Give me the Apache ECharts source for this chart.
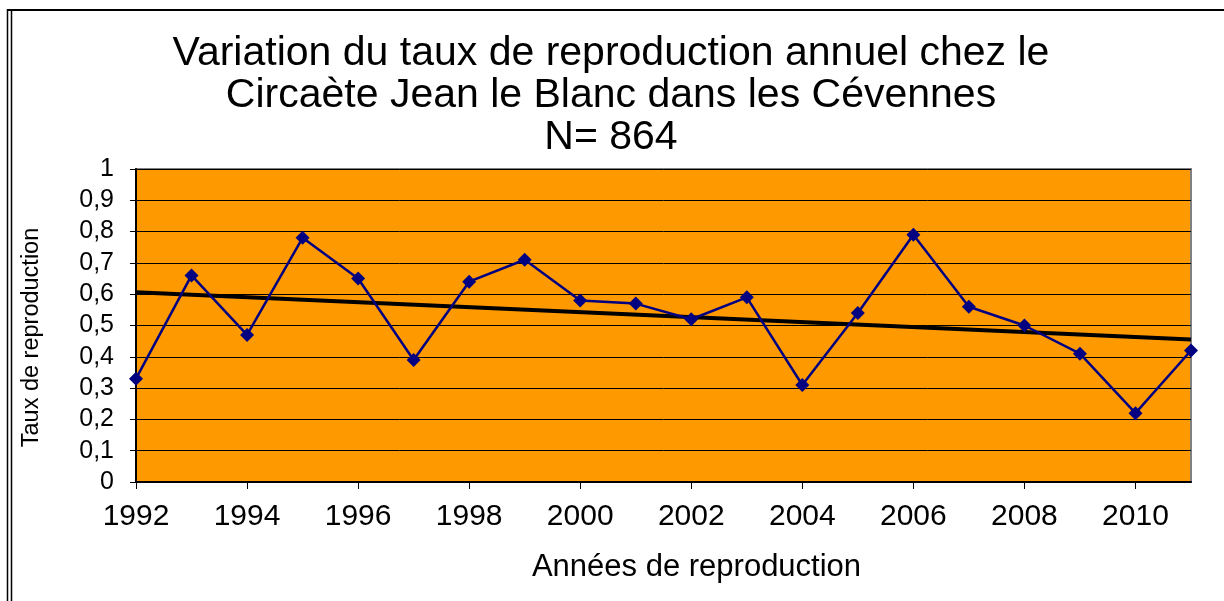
<!DOCTYPE html>
<html>
<head>
<meta charset="utf-8">
<script src="https://cdn.jsdelivr.net/npm/echarts@6/dist/echarts.min.js"></script>
<style>
	html, body { margin: 0; padding: 0; background: #fff; }
	#chart { width: 1224px; height: 601px; }
</style>
</head>
<body>
<div id="chart"></div>
<script>
	var years = ['1992', '1993', '1994', '1995', '1996', '1997', '1998', '1999', '2000', '2001',
		'2002', '2003', '2004', '2005', '2006', '2007', '2008', '2009', '2010', '2011'];
	var tauxRepro = [0.33, 0.66, 0.47, 0.78, 0.65, 0.39, 0.64, 0.71, 0.58, 0.57,
		0.52, 0.59, 0.31, 0.54, 0.79, 0.56, 0.50, 0.41, 0.22, 0.42];
	// linear trend, end points
	var trendYears = ['1992', '2011'];
	var trendValues = [0.606, 0.455];

	var trendData = trendYears.map(function (y, i) { return [y, trendValues[i]]; });

	var chart = echarts.init(document.getElementById('chart'));

	var option = {
		backgroundColor: '#ffffff',
		animation: false,
		textStyle: { fontFamily: 'Liberation Sans, Arial, sans-serif' },
		title: {
			text: 'Variation du taux de reproduction annuel chez le\nCircaète Jean le Blanc dans les Cévennes\nN= 864',
			left: 606,
			top: 28,
			textAlign: 'center',
			textStyle: {
				fontSize: 41,
				fontWeight: 'normal',
				color: '#000',
				lineHeight: 42
			}
		},
		graphic: [
			{ type: 'line', shape: { x1: 7.5, y1: 9, x2: 7.5, y2: 601 }, style: { stroke: '#000', lineWidth: 1.5 } },
			{ type: 'line', shape: { x1: 11.5, y1: 11, x2: 11.5, y2: 601 }, style: { stroke: '#000', lineWidth: 1.5 } },
			{ type: 'line', shape: { x1: 7, y1: 10, x2: 1224, y2: 10 }, style: { stroke: '#000', lineWidth: 2 } }
		],
		grid: {
			left: 136,
			right: 33,
			top: 169,
			bottom: 119,
			show: true,
			backgroundColor: '#ff9900',
			borderColor: '#808080',
			borderWidth: 2
		},
		xAxis: {
			type: 'category',
			data: years,
			boundaryGap: false,
			name: 'Années de reproduction',
			nameLocation: 'middle',
			nameGap: 70,
			nameTextStyle: { fontSize: 31, color: '#000', padding: [0, 0, 0, 66] },
			axisLine: { lineStyle: { color: '#000', width: 2 } },
			axisTick: { interval: 1, length: 7, lineStyle: { color: '#000' } },
			axisLabel: { interval: 1, fontSize: 30, color: '#000', margin: 20 },
			splitLine: { show: false }
		},
		yAxis: {
			type: 'value',
			min: 0,
			max: 1,
			interval: 0.1,
			name: 'Taux de reproduction',
			nameLocation: 'middle',
			nameGap: 92,
			nameTextStyle: { fontSize: 23.5, color: '#000', padding: [0, 24, 0, 0] },
			axisLine: { show: true, lineStyle: { color: '#000', width: 2 } },
			axisTick: { show: true, length: 6, lineStyle: { color: '#000' } },
			axisLabel: {
				fontSize: 25,
				color: '#000',
				margin: 22,
				formatter: function (v) { return String(Math.round(v * 10) / 10).replace('.', ','); }
			},
			splitLine: { lineStyle: { color: '#000', width: 1 } }
		},
		series: [
			{
				name: 'Taux',
				type: 'line',
				data: tauxRepro,
				symbol: 'diamond',
				symbolSize: 14,
				itemStyle: { color: '#000080' },
				lineStyle: { color: '#000080', width: 2.5 },
				z: 3
			},
			{
				name: 'Tendance',
				type: 'line',
				data: trendData,
				symbol: 'none',
				lineStyle: { color: '#000', width: 4 },
				z: 2
			}
		]
	};

	chart.setOption(option);
</script>
</body>
</html>
